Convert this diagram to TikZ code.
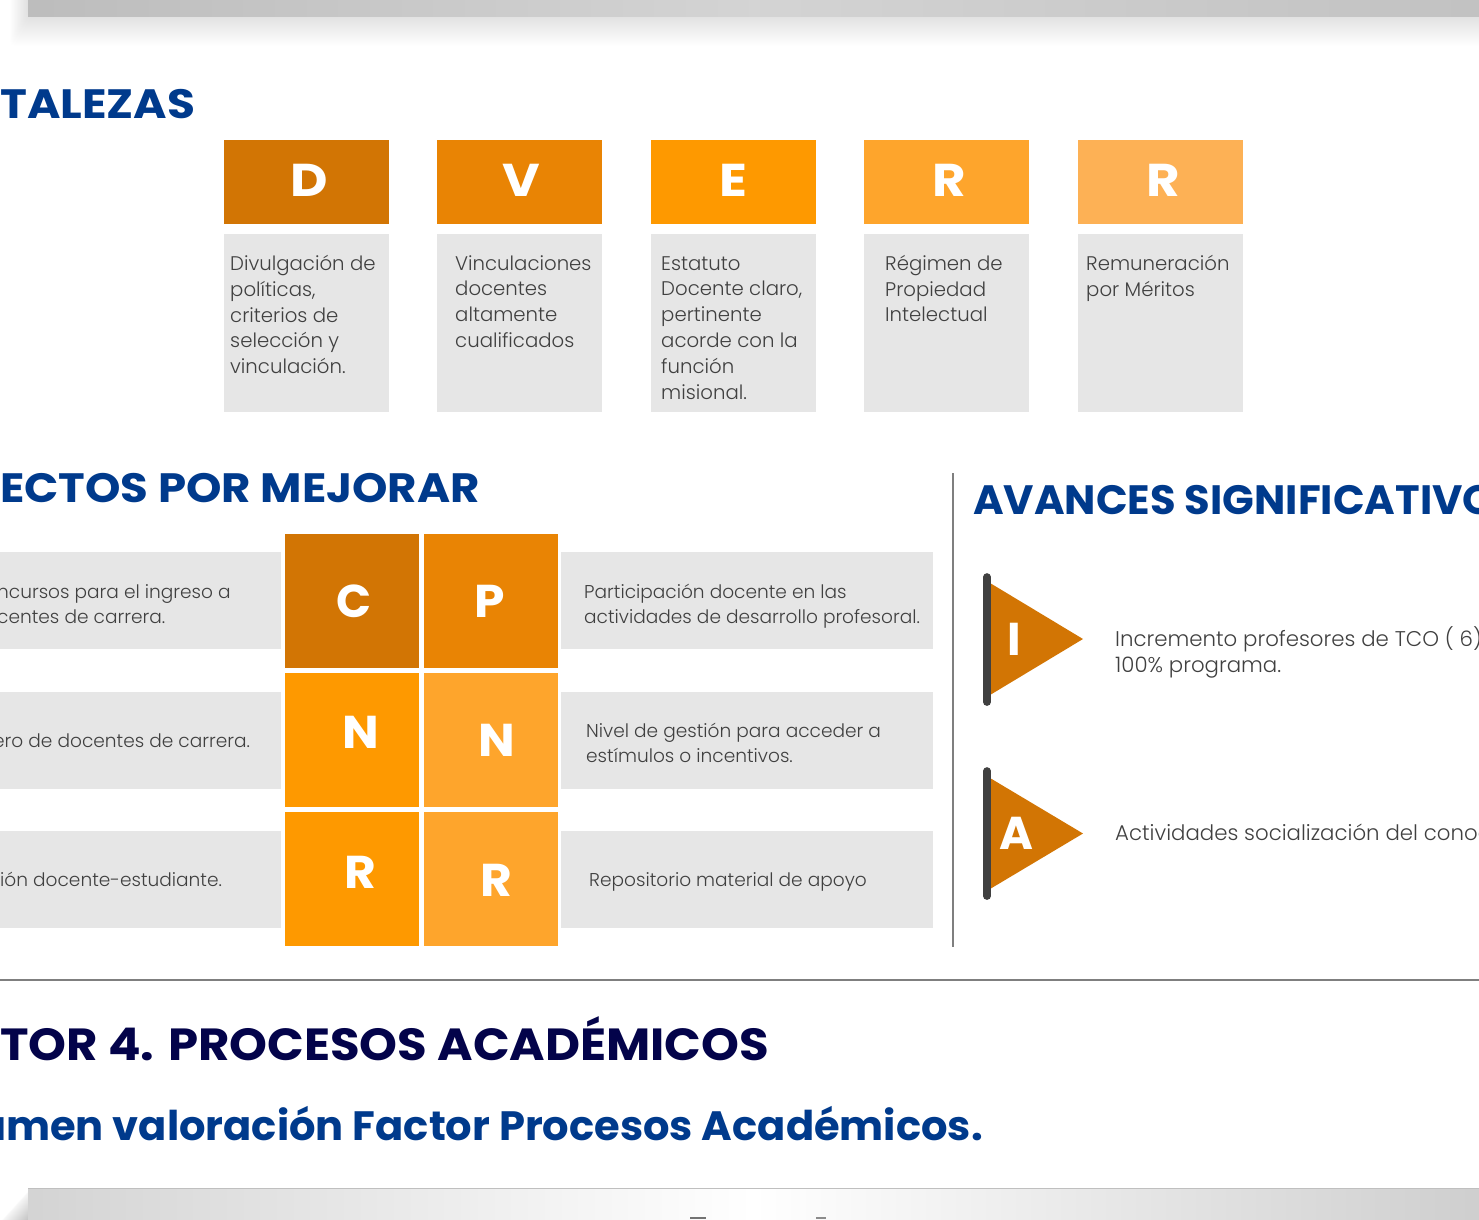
\documentclass[tikz,border=0pt]{standalone}
\usepackage{fontspec}
\setmainfont{Poppins}[UprightFont=* Light,BoldFont=* Bold]
\usetikzlibrary{calc}
\definecolor{cOne}{HTML}{D27504}
\definecolor{cTwo}{HTML}{E98404}
\definecolor{cThree}{HTML}{FE9900}
\definecolor{cFour}{HTML}{FEA52C}
\definecolor{cFive}{HTML}{FDB155}
\definecolor{boxgray}{HTML}{E6E6E6}
\definecolor{navy}{HTML}{003A8C}
\definecolor{deep}{HTML}{03034A}
\definecolor{txt}{HTML}{404040}
\definecolor{pole}{HTML}{404040}
\definecolor{rulegray}{HTML}{7F7F7F}
\newcommand\widen[2]{\scalebox{#1}[1]{#2}}
\tikzset{
 x=1pt,y=-1pt,
 head/.style={anchor=base west,inner sep=0pt,text=navy,font=\fontsize{41}{41}\selectfont\bfseries},
 headdeep/.style={anchor=base west,inner sep=0pt,text=deep,font=\fontsize{45}{45}\selectfont\bfseries},
 body/.style={anchor=north west,inner sep=0pt,align=left,text=txt,font=\fontsize{19.7}{25.8}\selectfont},
 small/.style={anchor=north west,inner sep=0pt,align=left,text=txt,font=\fontsize{18.55}{25}\selectfont},
 big/.style={anchor=north west,inner sep=0pt,align=left,text=txt,font=\fontsize{21.3}{26}\selectfont},
 letter/.style={text=white,inner sep=0pt,font=\fontsize{46}{46}\selectfont\bfseries},
 rule/.style={draw=rulegray,line width=2pt},
 flagpole/.style={draw=pole,line width=7.7pt,line cap=round},
}
\begin{document}
\begin{tikzpicture}
\useasboundingbox (0,0) rectangle (1479,1219);
\clip (0,0) rectangle (1479,1219);
% top bar shadow
\foreach \d in {1,...,30}{
  \fill[black,opacity=.0055,rounded corners=5pt] (28-\d*.6,-20) rectangle (1520,16+\d);
}
\path[left color=black!26,right color=black!24,middle color=black!17,draw=none] (28,-5) rectangle (1479,16);
% bottom bar shadow + bar
\foreach \d in {1,...,28}{
  \fill[black,opacity=.006,rounded corners=5pt] (28-\d,1188+\d*1.1) rectangle (1520,1260);
}
\path[left color=black!17,right color=black!19,middle color=white] (28,1188) rectangle (1479,1225);
\draw[black!25,line width=1pt] (28,1188.5) -- (1479,1188.5);
\fill[black!55] (690,1216.6) rectangle (706,1219);
\fill[black!45] (816,1216.6) rectangle (826,1219);
% headings
\node[head] (h1) at (0,118) {\widen{1.108}{TALEZAS}};
\node[head] (h2) at (0,502) {\widen{1.099}{ECTOS POR MEJORAR}};
\node[head] (h3) at (973,514) {\widen{1.015}{AVANCES SIGNIFICATIVO}};
\node[headdeep] (h4) at (0,1060) {\widen{1.071}{TOR 4. PROCESOS ACADÉMICOS}};
\node[head] (h5) at (-22,1140) {\widen{1.015}{umen valoración Factor Procesos Académicos.}};
% DVERR header tiles
\foreach \n/\x/\c/\l/\cx in {d/224/cOne/D/309.5,v/437/cTwo/V/521,e/651/cThree/E/733.5,r/864/cFour/R/949,s/1078/cFive/R/1163}{
  \fill[\c] (\x,140) rectangle (\x+165,224);
  \fill[boxgray] (\x,234) rectangle (\x+165,412);
  \node[letter] (l\n) at (\cx,180) {\widen{1.12}{\l}};
}
\node[body] (td) at (230,255) {Divulgación de\\políticas,\\criterios de\\selección y\\vinculación.};
\node[body] (tv) at (455,255) {Vinculaciones\\docentes\\altamente\\cualificados};
\node[body] (te) at (661,256) {Estatuto\\Docente claro,\\pertinente\\acorde con la\\función\\misional.};
\node[body] (tr) at (885,255) {Régimen de\\Propiedad\\Intelectual};
\node[body] (ts) at (1086,255) {Remuneración\\por Méritos};
% grey rows
\foreach \y in {552,692,831}{
  \fill[boxgray] (0,\y) rectangle (281,\y+97);
  \fill[boxgray] (561,\y) rectangle (933,\y+97);
}
% grid
\fill[cOne] (285,534) rectangle (419,668);
\fill[cTwo] (424,534) rectangle (558,668);
\fill[cThree] (285,673) rectangle (419,807);
\fill[cFour] (424,673) rectangle (558,807);
\fill[cThree] (285,812) rectangle (419,946);
\fill[cFour] (424,812) rectangle (558,946);
\node[letter] (gc) at (354.5,601) {C};
\node[letter] (gp) at (490,601) {\widen{1.06}{P}};
\node[letter] (gn1) at (361,732) {\widen{1.06}{N}};
\node[letter] (gn2) at (497,740) {\widen{1.06}{N}};
\node[letter] (gr1) at (360,872) {\widen{1.06}{R}};
\node[letter] (gr2) at (496,880) {\widen{1.06}{R}};
% row text
\node[small] (a1) at (-3,584) {ncursos para el ingreso a\\centes de carrera.};
\node[small] (a2) at (-7,734) {ero de docentes de carrera.};
\node[small] (a3) at (0,872) {ión docente-estudiante.};
\node[small] (b1) at (584,584) {Participación docente en las\\actividades de desarrollo profesoral.};
\node[small] (b2) at (586,723) {Nivel de gestión para acceder a\\estímulos o incentivos.};
\node[small] (b3) at (589,872) {Repositorio material de apoyo};
% rules
\draw[rule] (953,473) -- (953,947);
\draw[rule] (0,980) -- (1479,980);
% flags
\fill[cOne] (990,583) -- (1083,639) -- (990,695) -- cycle;
\fill[cOne] (990,778) -- (1083,833.5) -- (990,889) -- cycle;
\draw[flagpole] (987,577) -- (987,702);
\draw[flagpole] (987,771) -- (987,896);
\node[letter] (fi) at (1014.5,639) {I};
\node[letter] (fa) at (1016,833) {A};
\node[big] (i1) at (1115,626) {Incremento profesores de TCO ( 6)\\100\% programa.};
\node[big] (i2) at (1115,824) {Actividades socialización del conoc};
\end{tikzpicture}
\end{document}
